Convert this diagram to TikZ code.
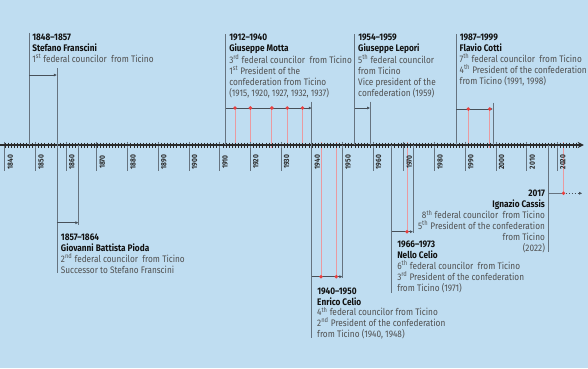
\documentclass[tikz,border=0pt]{standalone}
\usepackage{fontspec}
\setmainfont{Fira Sans}[FakeStretch=0.87]
\usetikzlibrary{arrows.meta}

\definecolor{bgblue}{RGB}{191,221,241}
\definecolor{linegray}{RGB}{102,115,127}
\definecolor{axisdark}{RGB}{43,43,43}
\definecolor{pinkline}{RGB}{234,154,160}
\definecolor{dotred}{RGB}{232,64,63}
\definecolor{headcol}{RGB}{17,17,17}
\definecolor{textgray}{RGB}{80,80,80}

\newcommand{\hd}[1]{\textcolor{headcol}{\textbf{#1}}}
\newcommand{\ord}[1]{\textsuperscript{#1}}

\begin{document}
\begin{tikzpicture}[x=3.07pt, y=-1pt,
	life/.style={draw=linegray, line width=0.8pt},
	span/.style={draw=linegray!70!black, line width=0.8pt, -{Latex[length=3pt,width=3pt]}},
	presline/.style={draw=pinkline, line width=0.8pt},
	info/.style={align=left, anchor=north west, inner sep=0pt, text=textgray, font=\fontsize{9.5}{10.8}\selectfont},
	yearlab/.style={rotate=90, inner sep=0pt, text=axisdark, font=\fontsize{7.6}{8}\selectfont\bfseries}]
	% Background
	\fill[bgblue] (1838.47,0) rectangle (2030,368);
	\useasboundingbox (1838.47,0) rectangle (2030,368);

	% Presidencies
	\foreach \yr in {1915,1920,1927,1932,1937}
		\draw[presline] (\yr,108) -- (\yr,148);
	\foreach \yr in {1991,1998}
		\draw[presline] (\yr,109) -- (\yr,148);
	\foreach \yr in {1943,1948}
		\draw[presline] (\yr,142) -- (\yr,276.7);
	\draw[presline] (1971,142) -- (1971,231.7);
	\draw[presline] (2022,142) -- (2022,193.3);

	% Axis
	\foreach \yr in {1840,...,2026}
		\draw[axisdark, line width=0.4pt] (\yr,142.7) -- (\yr,147.7);
	\foreach \yr in {1840,1850,...,2020} {
		\draw[linegray, line width=0.8pt] (\yr,141.7) -- (\yr,171);
		\node[yearlab] (y\yr) at (\yr+1.8,162) {\yr};
	}
	\draw[axisdark, line width=1.2pt, -{Stealth[length=6pt,width=6pt]}] (1838.47,145) -- (2028.6,145);

	% Stefano Franscini
	\draw[life] (1848,33) -- (1848,145);
	\draw[life] (1857,68) -- (1857,145);
	\coordinate (fr1) at (1848,75);
	\coordinate (fr2) at (1857,75);
	\draw[span] (fr1) -- (fr2);
	\node[info, xshift=2.8pt] (franscini) at (1848,34.2) {\hd{1848--1857}\\\hd{Stefano Franscini}\\1\ord{st} federal councilor~ from Ticino};

	% Giovanni Battista Pioda
	\draw[life] (1857,145) -- (1857,273);
	\draw[life] (1864,145) -- (1864,225);
	\coordinate (pi1) at (1857,222.7);
	\coordinate (pi2) at (1864,222.7);
	\draw[span] (pi1) -- (pi2);
	\node[info, xshift=3.8pt] (pioda) at (1857,234.2) {\hd{1857--1864}\\\hd{Giovanni Battista Pioda}\\2\ord{nd} federal councilor~ from Ticino\\Successor to Stefano Franscini};

	% Giuseppe Motta
	\draw[life] (1912,34) -- (1912,145);
	\draw[life] (1940,101.5) -- (1940,145);
	\coordinate (mo1) at (1912,108);
	\coordinate (mo2) at (1940,108);
	\draw[span] (mo1) -- (mo2);
	\foreach \yr in {1915,1920,1927,1932,1937}
		\fill[dotred] (\yr,108) circle (1.9pt);
	\node[info, xshift=3.3pt] (motta) at (1912,34.2) {\hd{1912--1940}\\\hd{Giuseppe Motta}\\3\ord{rd} federal councilor~ from Ticino\\1\ord{st} President of the\\confederation from Ticino\\(1915, 1920, 1927, 1932, 1937)};

	% Enrico Celio
	\draw[life] (1940,145) -- (1940,338);
	\draw[life] (1950,145) -- (1950,278.3);
	\coordinate (ec1) at (1940,276.7);
	\coordinate (ec2) at (1950,276.7);
	\draw[span] (ec1) -- (ec2);
	\foreach \yr in {1943,1948}
		\fill[dotred] (\yr,276.7) circle (1.9pt);
	\node[info, xshift=5.3pt] (ecelio) at (1940,287.5) {\hd{1940--1950}\\\hd{Enrico Celio}\\4\ord{th} federal councilor from Ticino\\2\ord{nd} President of the confederation\\from Ticino (1940, 1948)};

	% Giuseppe Lepori
	\draw[life] (1954,34) -- (1954,145);
	\draw[life] (1959,101.5) -- (1959,145);
	\coordinate (le1) at (1954,108);
	\coordinate (le2) at (1959,108);
	\draw[span] (le1) -- (le2);
	\node[info, xshift=3.3pt] (lepori) at (1954,34.2) {\hd{1954--1959}\\\hd{Giuseppe Lepori}\\5\ord{th} federal councilor\\from Ticino\\Vice president of the\\confederation (1959)};

	% Nello Celio
	\draw[life] (1966,145) -- (1966,293.3);
	\draw[life] (1973,145) -- (1973,233);
	\coordinate (nc1) at (1966,231.7);
	\coordinate (nc2) at (1973,231.7);
	\draw[span] (nc1) -- (nc2);
	\fill[dotred] (1971,231.7) circle (1.9pt);
	\node[info, xshift=5.5pt] (ncelio) at (1966,241.2) {\hd{1966--1973}\\\hd{Nello Celio}\\6\ord{th} federal councilor~ from Ticino\\3\ord{rd} President of the confederation\\from Ticino (1971)};

	% Flavio Cotti
	\draw[life] (1987,34) -- (1987,145);
	\draw[life] (1999,102.5) -- (1999,145);
	\coordinate (co1) at (1987,109);
	\coordinate (co2) at (1999,109);
	\draw[span] (co1) -- (co2);
	\foreach \yr in {1991,1998}
		\fill[dotred] (\yr,109) circle (1.9pt);
	\node[info, xshift=3.5pt] (cotti) at (1987,34.2) {\hd{1987--1999}\\\hd{Flavio Cotti}\\7\ord{th} federal councilor~ from Ticino\\4\ord{th} President of the confederation\\from Ticino (1991, 1998)};

	% Ignazio Cassis
	\draw[life] (2017,145) -- (2017,251.7);
	\coordinate (ca1) at (2017,193.3);
	\coordinate (ca2) at (2022,193.3);
	\coordinate (ca3) at (2028.1,193.3);
	\draw[life] (ca1) -- (ca2);
	\draw[span, dotted] (ca2) -- (ca3);
	\fill[dotred] (ca2) circle (1.9pt);
	\node[info, align=right, anchor=north east, xshift=-3pt] (cassis) at (2017,189.5) {\hd{2017}\\\hd{Ignazio Cassis}\\8\ord{th} federal councilor~ from Ticino\\5\ord{th} President of the confederation\\from Ticino\\(2022)};
\end{tikzpicture}
\end{document}
